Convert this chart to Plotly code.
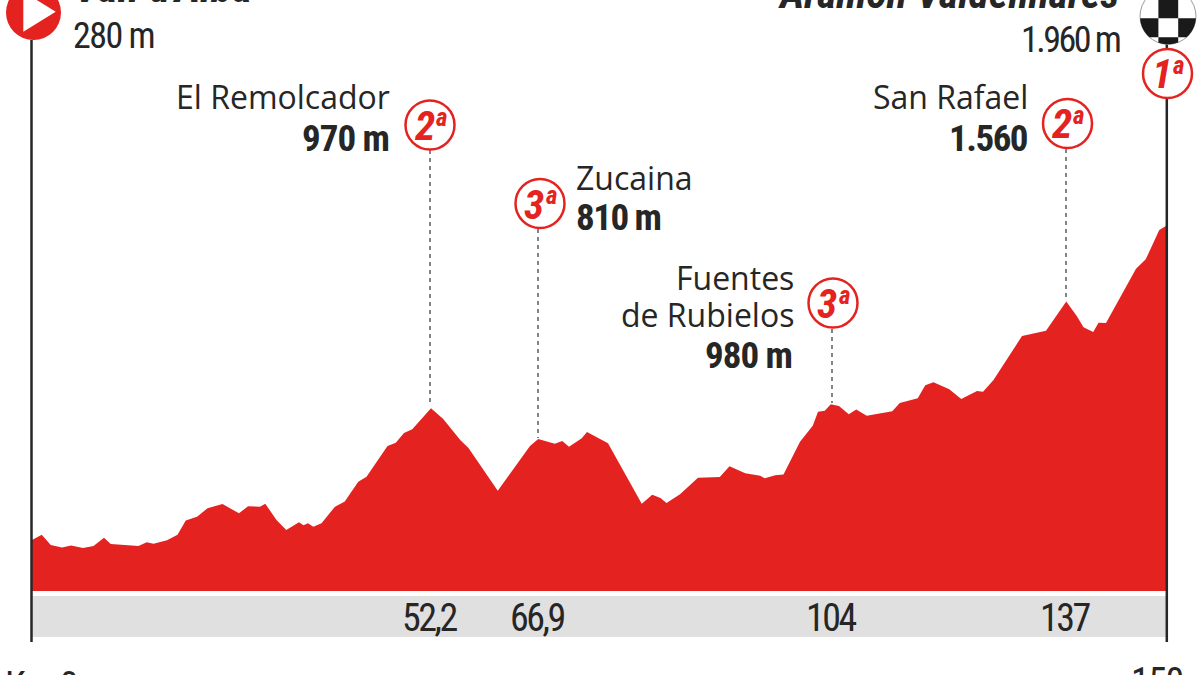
import math
import plotly.graph_objects as go

# ---- Data ----
km = [0, 1.3, 2.5, 4.0, 5.2, 6.8, 8.2, 9.6, 10.5, 14.2, 15.3, 16.2, 18.0, 19.4, 20.5, 22.0, 23.4, 25.4,
      27.6, 28.8, 30.4, 31.1, 32.6, 33.9, 35.6, 36.2, 36.8, 37.5, 38.6, 40.4, 41.7, 43.5, 44.6, 47.4,
      48.5, 49.6, 50.7, 53.2, 54.8, 57.1, 58.2, 62.1, 66.4, 67.5, 69.7, 70.7, 71.6, 73.3, 74.0, 76.8,
      81.3, 82.7, 83.8, 84.6, 86.4, 88.8, 91.7, 93.0, 95.1, 97.1, 97.7, 99.1, 100.2, 102.4, 104.1,
      104.8, 105.7, 106.5, 107.6, 108.9, 109.9, 111.3, 114.7, 115.7, 118.1, 119.1, 120.2, 122.3, 123.9,
      126.0, 126.8, 128.2, 132.0, 135.2, 137.9, 139.3, 140.2, 141.5, 142.2, 143.2, 147.2, 148.5, 150.3,
      151.2]
altitude = [274, 302, 247, 233, 245, 231, 242, 286, 252, 242, 262, 254, 272, 302, 378, 399, 444, 467,
            417, 455, 453, 469, 381, 328, 369, 353, 364, 345, 364, 453, 480, 587, 614, 779,
            796, 848, 869, 981, 925, 811, 768, 539, 779, 816, 791, 806, 775, 820, 854, 793,
            469, 517, 499, 473, 519, 608, 612, 670, 632, 619, 605, 621, 625, 801, 888,
            963, 968, 1003, 993, 949, 974, 941, 965, 1010, 1035, 1105, 1121, 1083, 1031,
            1074, 1070, 1133, 1369, 1398, 1554, 1477, 1416, 1391, 1441, 1439, 1731, 1781, 1939,
            1960]

start_name = "Vall d'Alba"
start_alt = "280 m"
finish_name = "Aramón Valdelinares"
finish_alt = "1.960 m"
km_start_label = "Km 0"
km_end_label = "150"

climb_names = ["El Remolcador", "Zucaina", "Fuentes", "de Rubielos", "San Rafael"]
climb_alts = ["970 m", "810 m", "980 m", "1.560"]
climb_cats = ["2", "3", "3", "2"]
climb_km_labels = ["52,2", "66,9", "104", "137"]

RED = "#E42320"
INK = "#262626"
GREY = "#E0E0E0"
NARROW = "Roboto"
OPEN = "Open Sans"

W, H = 1200, 675
PX = lambda x: x / W
PY = lambda y: 1 - y / H


def poly(points):
    return "M" + " L".join(f"{PX(x):.5f},{PY(y):.5f}" for x, y in points) + " Z"


def clip_circle(x0, x1, y0, y1, cx, cy, r, n=60):
    top, bottom = [], []
    for i in range(n + 1):
        x = x0 + (x1 - x0) * i / n
        d = r * r - (x - cx) ** 2
        if d <= 0:
            continue
        h = math.sqrt(d)
        a, b = max(y0, cy - h), min(y1, cy + h)
        if a < b:
            top.append((x, a))
            bottom.append((x, b))
    return top + bottom[::-1]


fig = go.Figure()
fig.add_trace(go.Scatter(x=km, y=altitude, mode="lines", line=dict(width=0, color=RED),
                         fill="tozeroy", fillcolor=RED, hoverinfo="skip", showlegend=False))

shapes = []
annots = []


def text(x, y, s, size, family=NARROW, color=INK, anchor="center", bold=False, italic=False, sp=0):
    if family == NARROW:
        s = f'<span style="font-stretch:75%;letter-spacing:{sp}px">{s}</span>'
    annots.append(dict(xref="paper", yref="paper", x=PX(x), y=PY(y), text=s, showarrow=False,
                       xanchor=anchor, yanchor="middle", align=anchor,
                       font=dict(family=family, size=size, color=color,
                                 weight=700 if bold else 400,
                                 style="italic" if italic else "normal")))


def rect(x0, y0, x1, y1, color):
    shapes.append(dict(type="rect", xref="paper", yref="paper", x0=PX(x0), x1=PX(x1), y0=PY(y0), y1=PY(y1),
                       fillcolor=color, line=dict(width=0), layer="below"))


def line(x, y0, y1, width, dash="solid", color=INK):
    shapes.append(dict(type="line", xref="paper", yref="paper", x0=PX(x), x1=PX(x), y0=PY(y0), y1=PY(y1),
                       line=dict(color=color, width=width, dash=dash), layer="above"))


def circle(cx, cy, r, fill, edge=None, width=0):
    shapes.append(dict(type="circle", xref="paper", yref="paper", x0=PX(cx - r), x1=PX(cx + r),
                       y0=PY(cy - r), y1=PY(cy + r), fillcolor=fill,
                       line=dict(color=edge or fill, width=width), layer="above"))


def badge(cx, cy, digit):
    circle(cx, cy, 24.5, "white", RED, 2.5)
    text(cx - 6, cy + 1, digit, 41, color=RED, bold=True, italic=True)
    text(cx + 11, cy - 8, "a", 25, color=RED, bold=True, italic=True)


rect(32, 596, 1167, 637, GREY)
line(31.5, 40, 642, 2.5)
line(1166.8, 44, 642, 2.5)

leaders = [(430, 150, 406), (538, 229, 438), (832, 329, 403), (1066, 149, 300)]
badges = [(430, 125), (540, 203.5), (833, 303), (1067.5, 123.5)]
for (lx, y0, y1), (bx, by), cat, lab in zip(leaders, badges, climb_cats, climb_km_labels):
    line(lx, y0, y1, 1.2, dash="4px,4px", color="#333333")
    badge(bx, by, cat)
    text(lx - 1, 618, lab, 38, sp=-2.5)

text(392, 97, climb_names[0], 32, family=OPEN, anchor="right")
text(391, 138, climb_alts[0], 37, bold=True, anchor="right", sp=-1)
text(574, 177, climb_names[1], 32, family=OPEN, anchor="left")
text(574, 218, climb_alts[1], 37, bold=True, anchor="left", sp=-1.5)
text(796, 277, climb_names[2], 32, family=OPEN, anchor="right")
text(796, 314, climb_names[3], 32, family=OPEN, anchor="right")
text(794, 355, climb_alts[2], 37, bold=True, anchor="right", sp=-1)
text(1030, 97, climb_names[4], 32, family=OPEN, anchor="right")
text(1029, 138, climb_alts[3], 37, bold=True, anchor="right", sp=-1.5)

circle(33.5, 12.5, 27.5, RED)
shapes.append(dict(type="path", xref="paper", yref="paper", layer="above", fillcolor="white", line=dict(width=0),
                   path=poly([(23.3, -8.3), (55.7, 11.7), (23.3, 31.7)])))

FX, FY, FR = 1168, 16.3, 28
circle(FX, FY, FR, "white", "#9a9a9a", 1)
for x0, y0, x1, y1 in [(1158.4, -13, 1178.2, 18.3), (1139, 18.3, 1158.4, 37.3),
                       (1178.2, 18.3, 1197, 37.3), (1158.4, 37.3, 1178.2, 46)]:
    shapes.append(dict(type="path", xref="paper", yref="paper", layer="above", fillcolor="#1a1a1a",
                       line=dict(width=0), path=poly(clip_circle(x0, x1, y0, y1, FX, FY, FR))))
badge(1167.5, 73.5, "1")

text(72, -13, start_name, 44, bold=True, italic=True, anchor="left")
text(71, 36, start_alt, 36, anchor="left", sp=-1.5)
text(1121, -6, finish_name, 42, bold=True, italic=True, anchor="right")
text(1122, 40, finish_alt, 36, anchor="right", sp=-2.5)
text(3, 685.5, km_start_label, 38, anchor="left", sp=-1)
text(1157, 682, km_end_label, 38, sp=-1.5)

fig.update_layout(
    width=W, height=H, autosize=False,
    margin=dict(l=0, r=0, t=0, b=0),
    paper_bgcolor="white", plot_bgcolor="white",
    xaxis=dict(range=[-32 / 7.5, (W - 32) / 7.5], visible=False, fixedrange=True),
    yaxis=dict(range=[-84 * 5.37, 591 * 5.37], visible=False, fixedrange=True),
    shapes=shapes, annotations=annots, showlegend=False,
)
fig.write_html("out.html", config=dict(displayModeBar=False),
               post_script="document.body.style.margin='0';document.documentElement.style.overflow='hidden';")
